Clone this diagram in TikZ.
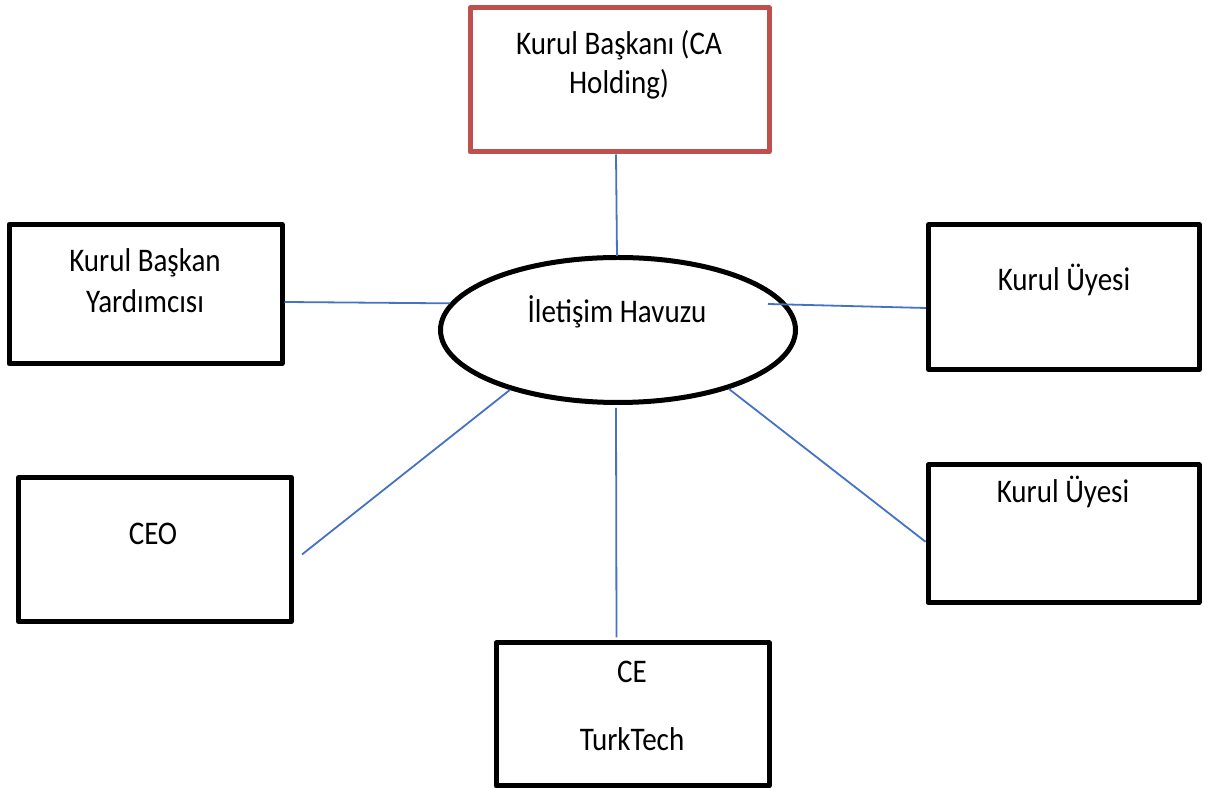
\documentclass[tikz,border=0pt]{standalone}
\usepackage{fontspec}
\setmainfont[FakeStretch=0.88]{Carlito}
\usetikzlibrary{shapes.geometric,calc}
\definecolor{chairred}{HTML}{C0504D}
\definecolor{linkblue}{HTML}{4472C4}
\begin{document}
\begin{tikzpicture}[x=0.5pt,y=-0.5pt,
  box/.style={draw=black,line width=2.5pt,line join=round,rectangle,inner sep=0pt,fill=white},
  chairbox/.style={box,draw=chairred},
  pool/.style={draw=black,line width=2.5pt,ellipse,inner sep=0pt,fill=white},
  label/.style={anchor=base,inner sep=0pt,font=\fontsize{16.5pt}{20pt}\selectfont},
  link/.style={draw=linkblue,line width=0.9pt}]
\useasboundingbox (0,0) rectangle (1207,790);

% boxes
\node[chairbox,minimum width=149.5pt,minimum height=72pt] (top) at (619.5,80) {};
\node[box,minimum width=136.5pt,minimum height=69.5pt] (vice) at (145.5,294) {};
\node[box,minimum width=135.5pt,minimum height=72.5pt] (kurul1) at (1064,297) {};
\node[box,minimum width=136.5pt,minimum height=72pt] (ceo) at (155,549.5) {};
\node[box,minimum width=135.5pt,minimum height=68.75pt] (kurul2) at (1063.5,533.75) {};
\node[box,minimum width=136.5pt,minimum height=71.5pt] (ce) at (632.5,714.5) {};
\node[pool,minimum width=177.5pt,minimum height=72.5pt] (ell) at (618,330) {};

% box texts
\node[label] (topA) at (619,55) {Kurul Başkanı (CA};
\node[label] (topB) at (619,94) {Holding)};
\node[label] (poolT) at (617,323) {İletişim Havuzu};
\node[label] (viceA) at (145,272) {Kurul Başkan};
\node[label] (viceB) at (145,313) {Yardımcısı};
\node[label] (k1T) at (1064,291) {Kurul Üyesi};
\node[label] (k2T) at (1063,503) {Kurul Üyesi};
\node[label] (ceoT) at (153,545) {CEO};
\node[label] (ceA) at (632,683) {CE};
\node[label] (ceB) at (632,751) {TurkTech};

% connectors
\draw[link] ($(top.south)+(-3.5,0)$) -- ($(ell.north)+(-1,1)$);
\draw[link] ($(vice.east)+(0,8)$) -- (ell.171);
\draw[link] ($(ell.center)+(150,-26)$) -- ($(kurul1.west)+(0,11)$);
\draw[link] (ell.209) -- ($(ceo.east)+(8,5)$);
\draw[link] (ell.332) -- ($(kurul2.west)+(0,8)$);
\draw[link] ($(ell.south)+(-2,3)$) -- ($(ce.north)+(-16,-3)$);
\end{tikzpicture}
\end{document}
